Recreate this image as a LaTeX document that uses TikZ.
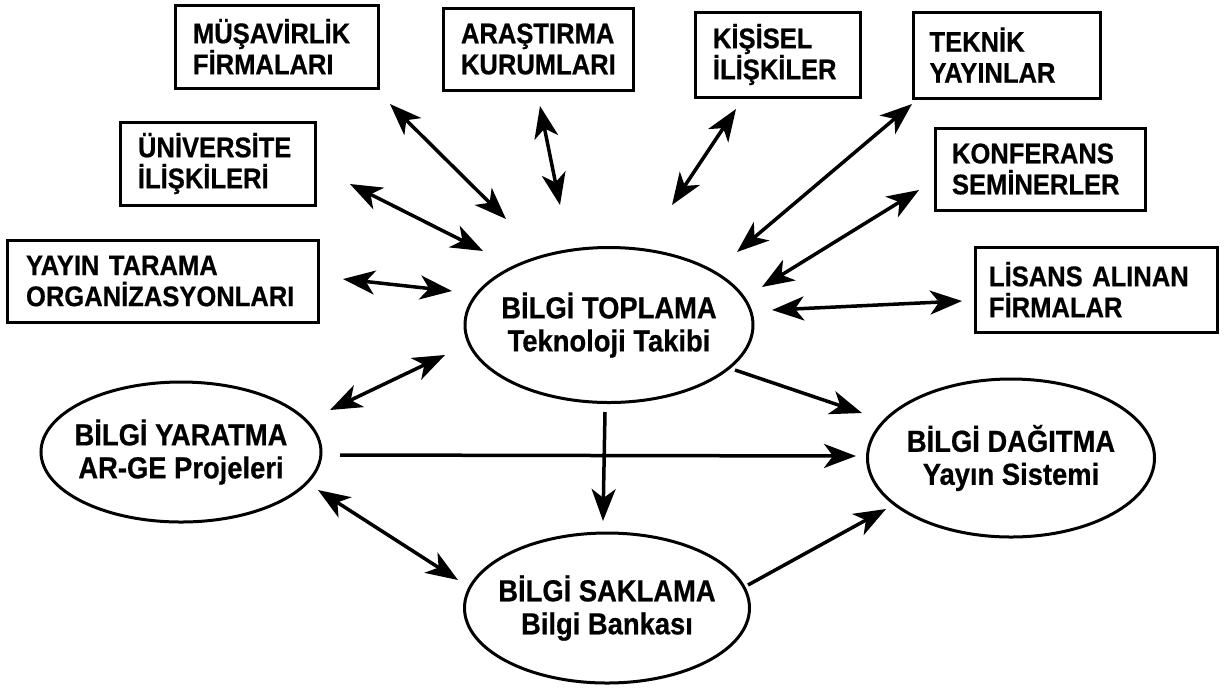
\documentclass[tikz,border=0pt]{standalone}
\usepackage{fontspec}
\setmainfont{Liberation Sans}[FakeStretch=0.9, BoldFeatures={FakeBold=0.6}]
\usetikzlibrary{arrows.meta,shapes.geometric}
\tikzset{
  box/.style={draw, line width=1.5pt, rectangle, align=left, inner xsep=0pt, inner ysep=0pt,
    font=\bfseries\fontsize{14.2}{15.5}\selectfont},
  ell/.style={draw, ellipse, line width=1.5pt, inner xsep=-25pt, inner ysep=0pt, align=center,
    font=\bfseries\fontsize{15.2}{16.5}\selectfont},
  tip/.tip={Stealth[length=16pt,width=12pt,inset=4.5pt]},
  onearr/.style={line width=1.75pt, -tip},
  twoarr/.style={line width=1.75pt, tip-tip},
}
\begin{document}
\begin{tikzpicture}[x=0.5pt,y=-0.5pt]
\fill[white] (0,0) rectangle (1227,693);
\useasboundingbox (0,0) rectangle (1227,693);

% boxes
\node[box, minimum width=101.5pt, minimum height=41.5pt, text width=83.5pt] (mus) at (276.5,46.5) {MÜŞAVİRLİK\\FİRMALARI};
\node[box, minimum width=95pt, minimum height=41pt, text width=77pt] (ara) at (538,49) {ARAŞTIRMA\\KURUMLARI};
\node[box, minimum width=82.5pt, minimum height=42.5pt, text width=64.5pt] (kis) at (777.5,54.5) {KİŞİSEL\\İLİŞKİLER};
\node[box, minimum width=93.5pt, minimum height=43pt, text width=77pt] (tek) at (1006.5,55) {TEKNİK\\YAYINLAR};
\node[box, minimum width=97.5pt, minimum height=41.5pt, text width=79.5pt] (uni) at (217.5,163.5) {ÜNİVERSİTE\\İLİŞKİLERİ};
\node[box, minimum width=155.5pt, minimum height=41pt, text width=136.5pt] (yay) at (162.5,281) {YAYIN TARAMA\\ORGANİZASYONLARI};
\node[box, minimum width=105pt, minimum height=41pt, text width=88pt] (kon) at (1040,169) {KONFERANS\\SEMİNERLER};
\node[box, minimum width=121pt, minimum height=42.5pt, text width=107pt] (lis) at (1096,289.5) {LİSANS ALINAN\\FİRMALAR};

% ellipses
\node[ell, minimum width=144pt, minimum height=77.5pt] (top) at (609,325) {BİLGİ TOPLAMA\\Teknoloji Takibi};
\node[ell, minimum width=140pt, minimum height=70pt] (yar) at (181,452) {BİLGİ YARATMA\\AR-GE Projeleri};
\node[ell, minimum width=143.5pt, minimum height=79pt] (dag) at (1011,458) {BİLGİ DAĞITMA\\Yayın Sistemi};
\node[ell, minimum width=142.5pt, minimum height=75pt] (sak) at (607,608) {BİLGİ SAKLAMA\\Bilgi Bankası};

% connector end points
\coordinate (mus-e) at (390,104);   \coordinate (top-mus) at (506,219);
\coordinate (ara-e) at (540,106);   \coordinate (top-ara) at (560,205);
\coordinate (kis-e) at (736,109);   \coordinate (top-kis) at (672,205);
\coordinate (tek-e) at (912,104);   \coordinate (top-tek) at (737,252);
\coordinate (kon-e) at (919,190);   \coordinate (top-kon) at (762,287);
\coordinate (lis-e) at (962,301);   \coordinate (top-lis) at (772,310);
\coordinate (uni-e) at (350,184);   \coordinate (top-uni) at (483,251);
\coordinate (yay-e) at (343,279);   \coordinate (top-yay) at (452,291);
\coordinate (yar-top) at (330,410); \coordinate (top-yar) at (445,355);
\coordinate (yar-sak) at (318,490); \coordinate (sak-yar) at (458,580);
\coordinate (yar-dag) at (340,455); \coordinate (dag-yar) at (856,456);
\coordinate (top-dag) at (735,370); \coordinate (dag-top) at (862,413);
\coordinate (top-sak) at (605,412); \coordinate (sak-top) at (603,521);
\coordinate (sak-dag) at (748,585); \coordinate (dag-sak) at (886,509);

\draw[twoarr] (mus-e) -- (top-mus);
\draw[twoarr] (ara-e) -- (top-ara);
\draw[twoarr] (kis-e) -- (top-kis);
\draw[twoarr] (tek-e) -- (top-tek);
\draw[twoarr] (kon-e) -- (top-kon);
\draw[twoarr] (lis-e) -- (top-lis);
\draw[twoarr] (uni-e) -- (top-uni);
\draw[twoarr] (yay-e) -- (top-yay);
\draw[twoarr] (yar-top) -- (top-yar);
\draw[twoarr] (yar-sak) -- (sak-yar);
\draw[onearr] (yar-dag) -- (dag-yar);
\draw[onearr] (top-dag) -- (dag-top);
\draw[onearr] (top-sak) -- (sak-top);
\draw[onearr] (sak-dag) -- (dag-sak);
\end{tikzpicture}
\end{document}
